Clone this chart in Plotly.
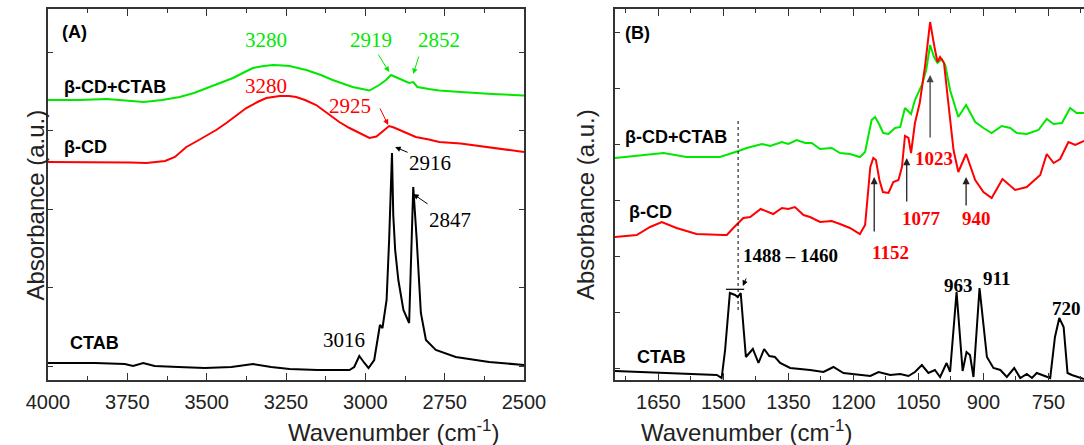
import plotly.graph_objects as go

# ---------------- Panel A data (wavenumber, absorbance a.u.) ----------------
wn_a_green = [4000, 3900, 3815, 3740, 3698, 3640, 3585, 3540, 3501, 3460, 3417, 3380, 3354, 3320, 3291, 3260,
              3239, 3186, 3140, 3103, 3040, 2987, 2956, 2935, 2919, 2905, 2883, 2862, 2849, 2836, 2800, 2767,
              2700, 2663, 2600, 2500]
ab_a_green = [2.80, 2.80, 2.81, 2.79, 2.78, 2.80, 2.83, 2.87, 2.92, 2.965, 3.02, 3.08, 3.12, 3.14, 3.15, 3.145,
              3.14, 3.10, 3.05, 3.00, 2.93, 2.895, 2.95, 3.00, 3.05, 3.03, 3.00, 2.97, 2.98, 2.93, 2.91, 2.895,
              2.88, 2.87, 2.86, 2.845]

wn_a_red = [4000, 3900, 3815, 3740, 3690, 3660, 3631, 3600, 3585, 3564, 3530, 3501, 3470, 3438, 3405, 3375,
            3340, 3312, 3270, 3240, 3218, 3190, 3155, 3120, 3082, 3050, 3019, 2987, 2965, 2945, 2925, 2910,
            2893, 2870, 2841, 2800, 2767, 2700, 2663, 2600, 2500]
ab_a_red = [2.18, 2.18, 2.18, 2.175, 2.17, 2.18, 2.19, 2.23, 2.27, 2.33, 2.39, 2.44, 2.50, 2.57, 2.645, 2.72,
            2.78, 2.82, 2.84, 2.84, 2.83, 2.80, 2.75, 2.67, 2.58, 2.52, 2.47, 2.42, 2.435, 2.49, 2.54, 2.525,
            2.50, 2.465, 2.43, 2.405, 2.38, 2.365, 2.35, 2.325, 2.28]

wn_a_black = [4000, 3852, 3758, 3732, 3700, 3664, 3590, 3506, 3422, 3354, 3297, 3239, 3150, 3050, 3035, 3019,
              3003, 2990, 2972, 2954, 2946, 2933, 2925, 2916, 2912, 2906, 2896, 2880, 2862, 2849, 2838, 2825,
              2809, 2778, 2715, 2650, 2610, 2500]
ab_a_black = [0.17, 0.17, 0.16, 0.14, 0.17, 0.14, 0.13, 0.12, 0.13, 0.16, 0.13, 0.11, 0.10, 0.10, 0.13, 0.24,
              0.17, 0.12, 0.20, 0.55, 0.52, 0.80, 1.40, 2.27, 1.65, 1.30, 1.00, 0.70, 0.57, 1.93, 1.40, 0.67,
              0.40, 0.30, 0.23, 0.20, 0.18, 0.15]

# ---------------- Panel B data ----------------
wn_b_green = [1750, 1700, 1638, 1585, 1508, 1465, 1446, 1411, 1392, 1365, 1350, 1331, 1311, 1296, 1277, 1250,
              1231, 1208, 1185, 1173, 1158, 1150, 1142, 1131, 1119, 1104, 1092, 1081, 1067, 1058, 1042, 1032,
              1023, 1014, 1006, 996, 988, 977, 958, 940, 919, 900, 881, 858, 838, 823, 800, 773, 754, 738,
              719, 700, 685, 668]
ab_b_green = [2.22, 2.24, 2.27, 2.23, 2.23, 2.29, 2.32, 2.36, 2.34, 2.38, 2.36, 2.40, 2.37, 2.37, 2.31, 2.32,
              2.27, 2.26, 2.23, 2.28, 2.60, 2.63, 2.57, 2.47, 2.46, 2.52, 2.53, 2.72, 2.66, 2.80, 2.95, 3.10,
              3.35, 3.23, 3.17, 3.21, 3.15, 2.90, 2.63, 2.75, 2.58, 2.52, 2.47, 2.54, 2.52, 2.47, 2.46, 2.50,
              2.61, 2.56, 2.57, 2.72, 2.67, 2.67]

wn_b_red = [1750, 1700, 1669, 1642, 1608, 1562, 1500, 1492, 1477, 1454, 1438, 1414, 1385, 1365, 1350, 1335,
            1315, 1300, 1277, 1250, 1231, 1208, 1185, 1173, 1161, 1154, 1148, 1140, 1132, 1119, 1108, 1096,
            1088, 1081, 1073, 1067, 1058, 1047, 1035, 1023, 1013, 1006, 1000, 991, 981, 969, 958, 940,
            919, 900, 881, 856, 827, 800, 769, 754, 738, 723, 704, 688, 668]
ab_b_red = [1.43, 1.45, 1.53, 1.58, 1.52, 1.46, 1.45, 1.45, 1.52, 1.62, 1.63, 1.71, 1.66, 1.72, 1.71, 1.73,
            1.65, 1.63, 1.58, 1.59, 1.56, 1.52, 1.46, 1.55, 2.13, 2.22, 2.20, 2.00, 1.88, 1.87, 1.98, 2.00,
            2.13, 2.44, 2.42, 2.27, 2.57, 2.77, 3.13, 3.58, 3.33, 3.18, 3.23, 3.17, 2.77, 2.30, 2.08, 2.26,
            2.00, 1.88, 1.82, 2.01, 1.90, 1.93, 2.05, 2.26, 2.17, 2.21, 2.38, 2.35, 2.39]

wn_b_black = [1750, 1608, 1515, 1504, 1496, 1485, 1473, 1467, 1460, 1448, 1432, 1419, 1406, 1394, 1381, 1369,
              1346, 1300, 1269, 1246, 1223, 1161, 1142, 1115, 1092, 1073, 1058, 1042, 1027, 1012, 1000, 985,
              977, 962, 948, 939, 931, 923, 909, 892, 877, 861, 846, 829, 815, 800, 788, 777, 761, 746,
              735, 725, 715, 706, 696, 688, 677, 668]
ab_b_black = [0.09, 0.07, 0.05, 0.02, 0.30, 0.87, 0.85, 0.83, 0.87, 0.23, 0.31, 0.17, 0.31, 0.24, 0.23, 0.17,
              0.12, 0.10, 0.08, 0.13, 0.07, 0.04, 0.08, 0.05, 0.06, 0.04, 0.08, 0.15, 0.07, 0.10, 0.03, 0.17,
              0.08, 0.88, 0.09, 0.28, 0.25, 0.03, 0.92, 0.23, 0.12, 0.10, 0.03, 0.12, 0.02, 0.06, 0.02, 0.07,
              0.04, 0.02, 0.43, 0.62, 0.53, 0.07, 0.05, 0.04, 0.02, 0.01]

series_names = ["β-CD+CTAB", "β-CD", "CTAB"]
GREEN, RED, BLACK = "#00e800", "#ff0000", "#000000"

SANS = "Liberation Sans, Arial, sans-serif"
SERIF = "Liberation Serif, Times New Roman, serif"

fig = go.Figure()
for xs, ys, c, n in [(wn_a_green, ab_a_green, GREEN, series_names[0]),
                     (wn_a_red, ab_a_red, RED, series_names[1]),
                     (wn_a_black, ab_a_black, BLACK, series_names[2])]:
    fig.add_trace(go.Scatter(x=xs, y=ys, mode="lines", line=dict(color=c, width=2),
                             name=n, xaxis="x", yaxis="y", showlegend=False))
for xs, ys, c, n in [(wn_b_green, ab_b_green, GREEN, series_names[0]),
                     (wn_b_red, ab_b_red, RED, series_names[1]),
                     (wn_b_black, ab_b_black, BLACK, series_names[2])]:
    fig.add_trace(go.Scatter(x=xs, y=ys, mode="lines", line=dict(color=c, width=2),
                             name=n, xaxis="x2", yaxis="y2", showlegend=False))

W, H = 1084, 445
axcol = "#333333"
common_x = dict(showline=True, linecolor=axcol, linewidth=1.5, ticks="inside", ticklen=7,
                tickcolor=axcol, tickwidth=1.2, showgrid=False, zeroline=False, automargin=False,
                tickfont=dict(family=SANS, size=20, color="#222"), ticklabelstandoff=3)
common_y = dict(showline=True, linecolor=axcol, linewidth=1.5, ticks="inside", ticklen=5,
                tickcolor=axcol, tickwidth=1.2, showgrid=False, zeroline=False, automargin=False,
                showticklabels=False, range=[0, 3.71])

fig.update_layout(
    width=W, height=H, autosize=False,
    margin=dict(l=0, r=0, t=9, b=65, pad=0, autoexpand=False),
    paper_bgcolor="white", plot_bgcolor="white",
    xaxis=dict(domain=[48 / W, 524 / W], range=[4000, 2500], dtick=250, tick0=0, mirror="ticks",
               minor=dict(ticks="inside", ticklen=4, dtick=125, tickcolor=axcol), anchor="y", **common_x),
    yaxis=dict(domain=[0, 1], mirror="ticks", tick0=0.14, dtick=0.785, anchor="x", **common_y),
    xaxis2=dict(domain=[615 / W, 1.0], range=[1750, 668], dtick=150, tick0=0, mirror="ticks",
                minor=dict(ticks="inside", ticklen=4, dtick=75, tickcolor=axcol), anchor="y2", **common_x),
    yaxis2=dict(domain=[0, 1], mirror=False, tick0=0.12, dtick=0.56, anchor="x2", **common_y),
)

ann = []
def txt(x, y, t, ref, size, color, family, bold=False, xanchor="center"):
    ann.append(dict(x=x, y=y, xref="x" + ref, yref="y" + ref, text=("<b>%s</b>" % t) if bold else t,
                    showarrow=False, xanchor=xanchor, yanchor="middle",
                    font=dict(family=family, size=size, color=color)))

def arrow(x, y, ax, ay, ref, color, width=1.0):
    ann.append(dict(x=x, y=y, ax=ax, ay=ay, xref="x" + ref, yref="y" + ref, axref="x" + ref,
                    ayref="y" + ref, text="", showarrow=True, arrowhead=2, arrowsize=1.1,
                    arrowwidth=width, arrowcolor=color))

# Panel A labels
txt(3962, 3.48, "(A)", "", 18, "#000", SANS, bold=True, xanchor="left")
txt(3956, 2.93, series_names[0], "", 18, "#000", SANS, bold=True, xanchor="left")
txt(3956, 2.33, series_names[1], "", 18, "#000", SANS, bold=True, xanchor="left")
txt(3937, 0.37, series_names[2], "", 18, "#000", SANS, bold=True, xanchor="left")
txt(3314, 3.40, "3280", "", 21, GREEN, SERIF)
txt(2981, 3.40, "2919", "", 21, GREEN, SERIF)
txt(2767, 3.40, "2852", "", 21, GREEN, SERIF)
txt(3314, 2.94, "3280", "", 21, RED, SERIF)
txt(3047, 2.74, "2925", "", 21, RED, SERIF)
txt(2796, 2.17, "2916", "", 21, "#000", SERIF)
txt(2733, 1.60, "2847", "", 21, "#000", SERIF)
txt(3066, 0.40, "3016", "", 21, "#000", SERIF)
arrow(2925, 3.08, 2962, 3.27, "", GREEN)
arrow(2849, 3.06, 2830, 3.25, "", GREEN)
arrow(2928, 2.55, 2956, 2.73, "", RED)
arrow(2906, 2.33, 2862, 2.27, "", "#000")
arrow(2849, 1.86, 2799, 1.75, "", "#000")

# Panel B labels
txt(1731, 3.47, "(B)", "2", 18, "#000", SANS, bold=True, xanchor="left")
txt(1731, 2.43, series_names[0], "2", 18, "#000", SANS, bold=True, xanchor="left")
txt(1722, 1.68, series_names[1], "2", 18, "#000", SANS, bold=True, xanchor="left")
txt(1704, 0.23, series_names[2], "2", 18, "#000", SANS, bold=True, xanchor="left")
txt(1114, 1.28, "1152", "2", 19, RED, SERIF, bold=True)
txt(1044, 1.62, "1077", "2", 19, RED, SERIF, bold=True)
txt(917, 1.62, "940", "2", 19, RED, SERIF, bold=True)
txt(1014, 2.22, "1023", "2", 19, RED, SERIF, bold=True)
txt(1346, 1.25, "1488 – 1460", "2", 19, "#000", SERIF, bold=True)
txt(958, 0.95, "963", "2", 19, "#000", SERIF, bold=True)
txt(871, 1.02, "911", "2", 19, "#000", SERIF, bold=True)
txt(709, 0.72, "720", "2", 19, "#000", SERIF, bold=True)
arrow(1152, 2.03, 1152, 1.47, "2", "#222", 1.3)
arrow(1077, 2.22, 1077, 1.77, "2", "#222", 1.3)
arrow(1023, 3.05, 1023, 2.41, "2", "#444", 1.3)
arrow(940, 2.03, 940, 1.73, "2", "#222", 1.3)
arrow(1455, 0.94, 1446, 1.03, "2", "#000", 1.0)

# axis titles (paper coords; plot area spans y px 9..380)
for xc in (286, 854):
    ann.append(dict(x=xc / W, y=(380 - 431) / 371.0, xref="paper", yref="paper",
                    text="Wavenumber (cm<sup>-1</sup>)", showarrow=False, yanchor="middle",
                    font=dict(family=SANS, size=24, color="#222")))
for xc in (19, 585):
    ann.append(dict(x=xc / W, y=(380 - 205) / 371.0, xref="paper", yref="paper",
                    text="Absorbance (a.u.)", textangle=-90, showarrow=False,
                    font=dict(family=SANS, size=24, color="#222")))

fig.update_layout(annotations=ann)

# dashed guide line and bar for 1488-1460 band
fig.add_shape(type="line", xref="x2", yref="y2", x0=1466, x1=1466, y0=0.70, y1=2.60,
              line=dict(color="#000", width=1, dash="dot"))
fig.add_shape(type="line", xref="x2", yref="y2", x0=1494, x1=1452, y0=0.907, y1=0.907,
              line=dict(color="#000", width=1.2))

fig.write_html("out.html")
